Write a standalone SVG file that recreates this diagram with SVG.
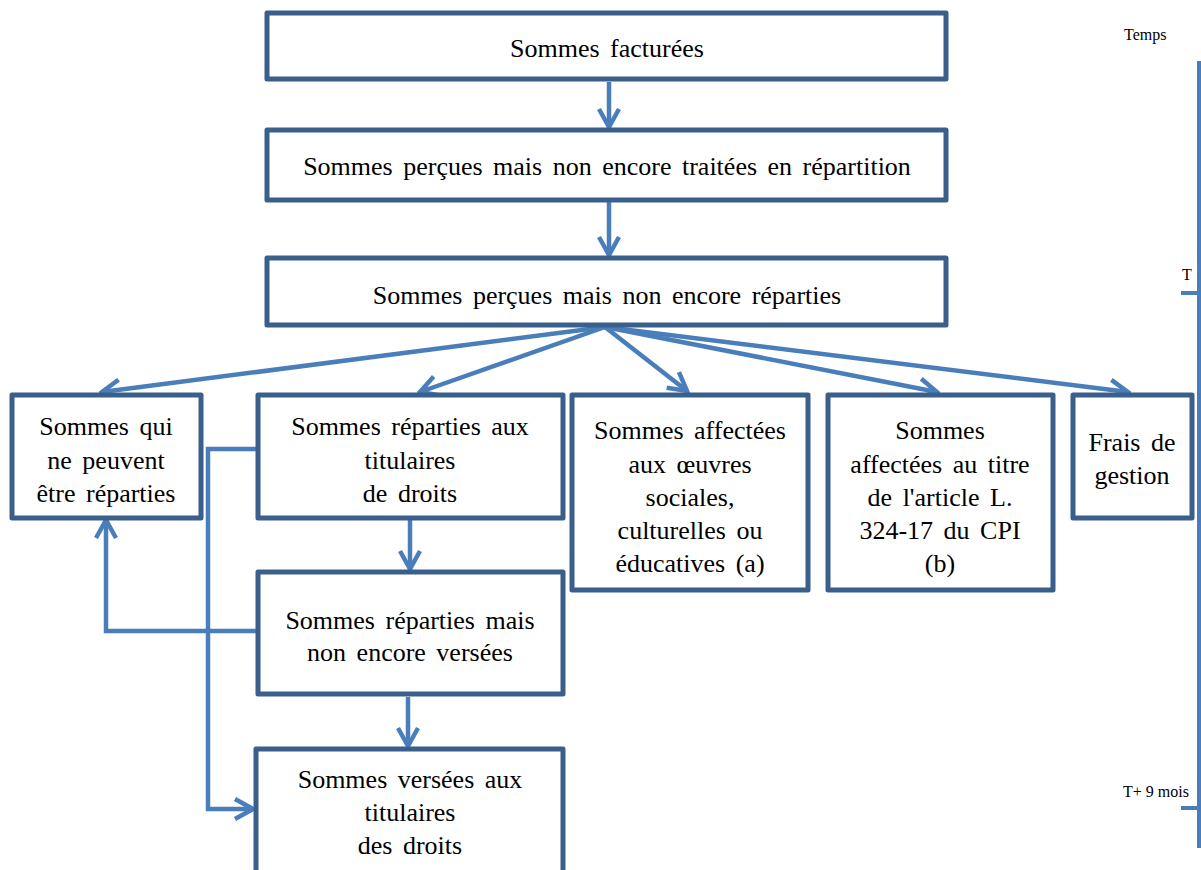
<svg xmlns="http://www.w3.org/2000/svg" width="1201" height="870" viewBox="0 0 1201 870">
<defs>
<style>
.box{fill:#fff;stroke:#3a5f8b;stroke-width:5;stroke-linejoin:round}
.t{font-family:"Liberation Serif","Times New Roman",serif;font-size:26px;fill:#000;text-anchor:middle;word-spacing:4px}
.s{font-family:"Liberation Serif","Times New Roman",serif;font-size:16px;fill:#000}
.c{fill:none;stroke:#4a7ebb;stroke-width:4.5}
.ax{fill:none;stroke:#4a7ebb;stroke-width:4}
</style>
<marker id="ah" viewBox="0 0 24 24" refX="21" refY="12" markerWidth="24" markerHeight="24" markerUnits="userSpaceOnUse" orient="auto">
<path d="M3,2 L21,12 L3,22" fill="none" stroke="#4a7ebb" stroke-width="4.5" stroke-linejoin="miter"/>
</marker>
</defs>
<rect width="1201" height="870" fill="#fff"/>

<g id="connectors">
<line class="c" x1="609" y1="82" x2="609" y2="127" marker-end="url(#ah)"/>
<line class="c" x1="609" y1="202" x2="609" y2="255" marker-end="url(#ah)"/>
<line class="c" x1="605" y1="327" x2="102" y2="392" marker-end="url(#ah)"/>
<line class="c" x1="605" y1="327" x2="420" y2="392" marker-end="url(#ah)"/>
<line class="c" x1="605" y1="327" x2="687" y2="391" marker-end="url(#ah)"/>
<line class="c" x1="605" y1="327" x2="937" y2="392" marker-end="url(#ah)"/>
<line class="c" x1="605" y1="327" x2="1128" y2="392" marker-end="url(#ah)"/>
<line class="c" x1="410" y1="520" x2="410" y2="569" marker-end="url(#ah)"/>
<line class="c" x1="408" y1="697" x2="408" y2="746" marker-end="url(#ah)"/>
<polyline class="c" points="257,449 208,449 208,809 253,809" marker-end="url(#ah)"/>
<polyline class="c" points="256,631 106,631 106,520" marker-end="url(#ah)"/>
</g>

<g id="time-axis">
<line class="ax" x1="1199" y1="61" x2="1199" y2="848"/>
<line class="ax" x1="1181" y1="293" x2="1199" y2="293"/>
<line class="ax" x1="1181" y1="808" x2="1199" y2="808"/>
<text class="s" x="1124" y="40">Temps</text>
<text class="s" x="1182" y="280">T</text>
<text class="s" x="1123" y="797">T+ 9 mois</text>
</g>

<g id="n1"><rect class="box" x="267" y="13" width="679" height="66"/>
<text class="t" x="607" y="57">Sommes facturées</text></g>

<g id="n2"><rect class="box" x="267" y="130" width="679" height="70"/>
<text class="t" x="607" y="175">Sommes perçues mais non encore traitées en répartition</text></g>

<g id="n3"><rect class="box" x="267" y="258" width="679" height="67"/>
<text class="t" x="607" y="304">Sommes perçues mais non encore réparties</text></g>

<g id="nA"><rect class="box" x="12" y="395" width="189" height="123"/>
<text class="t" x="106" y="435">Sommes qui</text>
<text class="t" x="106" y="469">ne peuvent</text>
<text class="t" x="106" y="502">être réparties</text></g>

<g id="nB"><rect class="box" x="258" y="395" width="305" height="123"/>
<text class="t" x="410" y="435">Sommes réparties aux</text>
<text class="t" x="410" y="469">titulaires</text>
<text class="t" x="410" y="502">de droits</text></g>

<g id="nC"><rect class="box" x="572" y="395" width="236" height="195"/>
<text class="t" x="690" y="439">Sommes affectées</text>
<text class="t" x="690" y="473">aux œuvres</text>
<text class="t" x="690" y="506">sociales,</text>
<text class="t" x="690" y="539">culturelles ou</text>
<text class="t" x="690" y="572">éducatives  (a)</text></g>

<g id="nD"><rect class="box" x="828" y="395" width="225" height="195"/>
<text class="t" x="940" y="439">Sommes</text>
<text class="t" x="940" y="473">affectées au titre</text>
<text class="t" x="940" y="506">de l'article L.</text>
<text class="t" x="940" y="539">324-17 du CPI</text>
<text class="t" x="940" y="572">(b)</text></g>

<g id="nE"><rect class="box" x="1073" y="395" width="119" height="123"/>
<text class="t" x="1132" y="451">Frais de</text>
<text class="t" x="1132" y="484">gestion</text></g>

<g id="nF"><rect class="box" x="258" y="572" width="305" height="122"/>
<text class="t" x="410" y="629">Sommes réparties mais</text>
<text class="t" x="410" y="661">non encore versées</text></g>

<g id="nG"><rect class="box" x="256" y="749" width="307" height="130"/>
<text class="t" x="410" y="788">Sommes versées aux</text>
<text class="t" x="410" y="821">titulaires</text>
<text class="t" x="410" y="854">des droits</text></g>
</svg>
